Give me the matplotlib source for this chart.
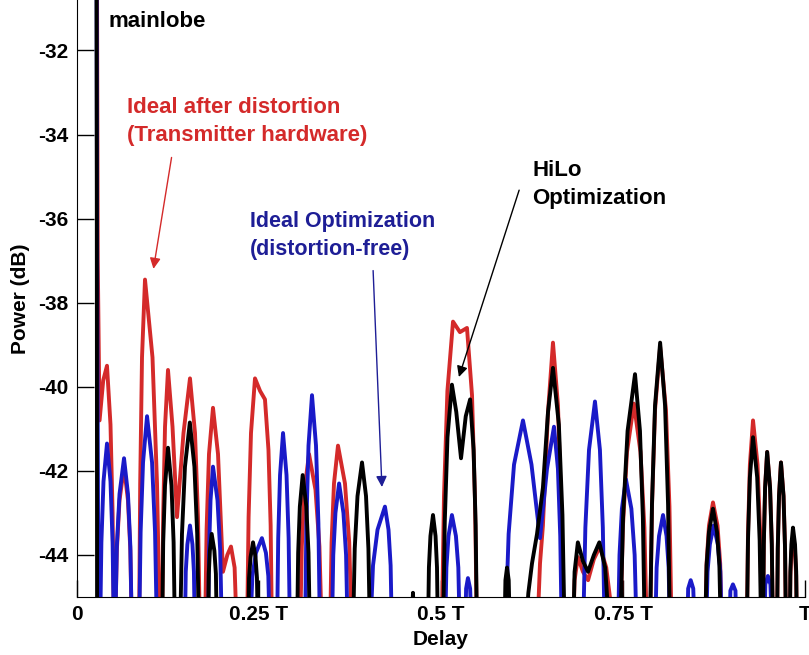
import matplotlib
matplotlib.use('Agg')
import matplotlib.pyplot as plt

plt.rcParams['font.family'] = ['Liberation Sans', 'DejaVu Sans']
plt.rcParams['axes.unicode_minus'] = False

# delay in units of T, power in dB
red_x = [0.026, 0.0285, 0.031, 0.036, 0.0412, 0.046, 0.0489, 0.0508,
         0.0522, 0.0547, 0.0584, 0.0646, 0.070, 0.0733, 0.0755,
         0.0852, 0.0868, 0.0893, 0.0934, 0.1037, 0.1099, 0.114,
         0.1168, 0.1184, 0.1209, 0.125, 0.1312, 0.1374,
         0.1463, 0.1552, 0.1621, 0.1662, 0.169,
         0.1758, 0.178, 0.1813, 0.1868, 0.1937, 0.2005,
         0.2065, 0.2115, 0.2165, 0.2198,
         0.2335, 0.2357, 0.239, 0.2445, 0.2515, 0.2582, 0.263, 0.266, 0.2679,
         0.3063, 0.3088, 0.3125, 0.3187, 0.3276, 0.333, 0.3365,
         0.3475, 0.3497, 0.353, 0.3585, 0.3681, 0.3739, 0.3777,
         0.501, 0.5041, 0.5088, 0.5165, 0.526, 0.5357, 0.5426, 0.5467, 0.5495,
         0.6319, 0.636, 0.640, 0.647, 0.6538, 0.6607, 0.6648, 0.6676,
         0.6813, 0.6835, 0.688, 0.695, 0.702, 0.710, 0.7184, 0.727, 0.732, 0.735,
         0.746, 0.7498, 0.7555, 0.765, 0.774, 0.7794, 0.783,
         0.787, 0.7898, 0.794, 0.801, 0.809, 0.8138, 0.817,
         0.8626, 0.8648, 0.8681, 0.8736, 0.8798, 0.8835, 0.886,
         0.920, 0.9217, 0.9243, 0.9286, 0.9348, 0.9385, 0.941,
         0.9423, 0.9434, 0.9452, 0.948, 0.952, 0.9544, 0.956,
         0.9615, 0.9626, 0.9643, 0.967, 0.9705, 0.9726, 0.974,
         0.979, 0.9799, 0.9813, 0.9835, 0.9863, 0.9879, 0.989]
red_y = [-20, -37, -40.8, -39.85, -39.5, -40.9, -43.0, -46,
         -46, -43.9, -42.7, -41.9, -42.7, -43.9, -46,
         -46, -42.3, -39.3, -37.45, -39.3, -42.3, -46,
         -46, -43.05, -40.95, -39.6, -40.95, -43.1,
         -41.1, -39.8, -41.1, -43.1, -46,
         -46, -43.4, -41.6, -40.5, -41.6, -44.4,
         -44.0, -43.8, -44.3, -46,
         -46, -43.1, -41.1, -39.8, -40.1, -40.3, -41.5, -43.3, -46,
         -46, -43.8, -42.45, -41.6, -42.45, -43.8, -46,
         -46, -43.7, -42.3, -41.4, -42.3, -43.7, -46,
         -46, -42.6, -40.1, -38.45, -38.7, -38.6, -40.2, -42.7, -46,
         -46, -44.2, -43.3, -40.6, -38.95, -40.45, -42.8, -46,
         -46, -44.6, -44.05, -44.4, -44.6, -44.1, -43.8, -44.3, -45, -46,
         -46, -43.35, -41.55, -40.4, -41.55, -43.35, -46,
         -46, -42.85, -40.55, -39.05, -40.55, -42.85, -46,
         -46, -44.2, -43.3, -42.75, -43.3, -44.2, -46,
         -46, -43.5, -41.85, -40.8, -41.85, -43.5, -46,
         -46, -43.75, -42.4, -41.55, -42.4, -43.75, -46,
         -46, -43.85, -42.6, -41.8, -42.6, -43.85, -46,
         -46, -44.5, -43.95, -43.6, -43.95, -44.5, -46]

blue_x = [0.026, 0.0275, 0.0295,
          0.0316, 0.0335, 0.0364, 0.0412, 0.046, 0.0489, 0.0508,
          0.0522, 0.0547, 0.0584, 0.0646, 0.070, 0.0733, 0.0755,
          0.0852, 0.0874, 0.0907, 0.0962, 0.1031, 0.1072, 0.110,
          0.148, 0.1494, 0.1516, 0.1552, 0.1586, 0.1606, 0.162,
          0.180, 0.1814, 0.1834, 0.1868, 0.193, 0.1967, 0.1992,
          0.2376, 0.2409, 0.2458, 0.254, 0.2595, 0.2628, 0.265,
          0.2747, 0.2764, 0.2789, 0.283, 0.2878, 0.2907, 0.2926,
          0.3132, 0.3151, 0.318, 0.3228, 0.3283, 0.3316, 0.3338,
          0.350, 0.352, 0.355, 0.360, 0.366, 0.3696, 0.372,
          0.4025, 0.4066, 0.4128, 0.423, 0.4279, 0.4308, 0.4327,
          0.5055, 0.5074, 0.5103, 0.515, 0.5205, 0.5238, 0.526,
          0.533, 0.5345, 0.537, 0.540, 0.5426,
          0.588, 0.5929, 0.6003, 0.6126, 0.6243, 0.632, 0.636,
          0.6456, 0.6552, 0.6606, 0.6638, 0.666,
          0.695, 0.6983, 0.7033, 0.7115, 0.7183, 0.7223, 0.725,
          0.743, 0.7452, 0.7485, 0.754, 0.7615, 0.766, 0.769,
          0.794, 0.7962, 0.7995, 0.805, 0.8098, 0.8127, 0.8146,
          0.838, 0.8395, 0.843, 0.8465, 0.849,
          0.864, 0.8661, 0.8693, 0.8745, 0.8803, 0.8837, 0.886,
          0.896, 0.8975, 0.901, 0.9045, 0.906,
          0.944, 0.9455, 0.949, 0.9525, 0.955]
blue_y = [-20, -36, -46,
          -46, -43.7, -42.25, -41.35, -42.25, -43.7, -46,
          -46, -43.8, -42.55, -41.7, -42.55, -43.8, -46,
          -46, -43.45, -41.8, -40.7, -41.8, -43.45, -46,
          -46, -44.4, -43.75, -43.3, -43.75, -44.4, -46,
          -46, -43.9, -42.7, -41.9, -42.7, -43.9, -46,
          -46, -44.5, -43.95, -43.6, -43.95, -44.5, -46,
          -46, -43.6, -42.1, -41.1, -42.1, -43.6, -46,
          -46, -43.25, -41.4, -40.2, -41.4, -43.25, -46,
          -46, -44.0, -43.0, -42.3, -43.0, -44.0, -46,
          -46, -44.25, -43.4, -42.85, -43.4, -44.25, -46,
          -46, -44.3, -43.55, -43.05, -43.55, -44.3, -46,
          -46, -44.8, -44.55, -44.8, -46,
          -46, -43.5, -41.85, -40.8, -41.85, -43.0, -43.6,
          -41.95, -40.95, -41.95, -43.55, -46,
          -46, -43.35, -41.5, -40.35, -41.5, -43.35, -46,
          -46, -44.0, -42.9, -42.2, -42.9, -44.0, -46,
          -46, -44.3, -43.55, -43.05, -43.55, -44.3, -46,
          -46, -44.8, -44.6, -44.8, -46,
          -46, -44.4, -43.75, -43.3, -43.75, -44.4, -46,
          -46, -44.85, -44.7, -44.85, -46,
          -46, -44.7, -44.5, -44.7, -46]

black_x = [0.026, 0.0272, 0.0276,
           0.1168, 0.1184, 0.1209, 0.125, 0.1298, 0.1327, 0.1346,
           0.1415, 0.1442, 0.1483, 0.155, 0.1613, 0.1651, 0.1676,
           0.180, 0.181, 0.1825, 0.185, 0.1887, 0.1908, 0.1923,
           0.2349, 0.2363, 0.2384, 0.2418, 0.2452, 0.2472, 0.2486,
           0.3022, 0.3038, 0.3061, 0.310, 0.315, 0.318, 0.320,
           0.379, 0.3815, 0.3853, 0.3915, 0.397, 0.4003, 0.4025,
           0.459, 0.4615, 0.464,
           0.482, 0.4834, 0.4855, 0.489, 0.4925, 0.4945, 0.4959,
           0.5027, 0.5052, 0.5089, 0.515, 0.521, 0.5275, 0.534, 0.540,
           0.5448, 0.5476, 0.5495,
           0.587, 0.5885, 0.5907, 0.593, 0.5948,
           0.6154, 0.620, 0.625, 0.6319, 0.640, 0.647, 0.6538, 0.6619,
           0.6668, 0.670,
           0.6813, 0.6835, 0.688, 0.695, 0.702, 0.710, 0.7175, 0.7255, 0.732,
           0.746, 0.7501, 0.7563, 0.7665, 0.7733, 0.7773, 0.780,
           0.787, 0.7898, 0.794, 0.801, 0.8078, 0.8119, 0.8146,
           0.8626, 0.8648, 0.8681, 0.8736, 0.8791, 0.8824, 0.8846,
           0.920, 0.9217, 0.9243, 0.9286, 0.9343, 0.9377, 0.940,
           0.9423, 0.9434, 0.9452, 0.948, 0.952, 0.9544, 0.956,
           0.9615, 0.9626, 0.9643, 0.967, 0.9705, 0.9726, 0.974,
           0.979, 0.9799, 0.9813, 0.9835, 0.9863, 0.9879, 0.989]
black_y = [-20, -35.4, -46,
           -46, -43.7, -42.35, -41.45, -42.35, -43.7, -46,
           -46, -43.5, -41.9, -40.85, -41.9, -43.5, -46,
           -46, -44.45, -43.9, -43.5, -43.9, -44.45, -46,
           -46, -44.55, -44.05, -43.7, -44.05, -44.55, -46,
           -46, -43.95, -42.85, -42.1, -42.85, -43.95, -46,
           -46, -43.85, -42.6, -41.8, -42.6, -43.85, -46,
           -46, -44.9, -46,
           -46, -44.3, -43.55, -43.05, -43.55, -44.3, -46,
           -46, -43.2, -41.2, -39.95, -40.6, -41.7, -40.7, -40.3,
           -41.5, -43.3, -46,
           -46, -44.6, -44.3, -44.6, -46,
           -46, -44.9, -44.2, -43.5, -42.4, -40.6, -39.55, -40.9,
           -43.05, -46,
           -46, -44.4, -43.7, -44.15, -44.4, -44.0, -43.7, -44.3, -46,
           -46, -43.1, -41.05, -39.7, -41.05, -43.1, -46,
           -46, -42.8, -40.45, -38.95, -40.45, -42.8, -46,
           -46, -44.25, -43.45, -42.9, -43.45, -44.25, -46,
           -46, -43.65, -42.15, -41.2, -42.15, -43.65, -46,
           -46, -43.75, -42.4, -41.55, -42.4, -43.75, -46,
           -46, -43.85, -42.6, -41.8, -42.6, -43.85, -46,
           -46, -44.4, -43.75, -43.35, -43.75, -44.4, -46]

xtick_pos = [0, 0.25, 0.5, 0.75, 1.0]
xtick_lab = ['0', '0.25 T', '0.5 T', '0.75 T', 'T']
ytick_pos = [-44, -42, -40, -38, -36, -34, -32]

RED = '#d42a2a'
BLUE = '#1a1ac8'
NAVY = '#1e1e96'

fig = plt.figure(figsize=(8.09, 6.55), dpi=100)
ax = fig.add_axes([77 / 809, 58 / 655, 728 / 809, 597 / 655])

ax.plot(red_x, red_y, color=RED, lw=2.8, zorder=2)
ax.plot(blue_x, blue_y, color=BLUE, lw=2.8, zorder=3)
ax.plot(black_x, black_y, color='black', lw=2.8, zorder=4)

ax.set_xlim(0, 1)
ax.set_ylim(-45, -30.8)
ax.set_xticks(xtick_pos)
ax.set_xticklabels(xtick_lab)
ax.set_yticks(ytick_pos)
ax.tick_params(direction='in', length=12, width=1, labelsize=15, pad=6)
for lab in ax.get_xticklabels() + ax.get_yticklabels():
    lab.set_fontweight('bold')
ax.spines['top'].set_visible(False)
ax.spines['right'].set_visible(False)
ax.set_xlabel('Delay', fontsize=15, fontweight='bold', labelpad=4)
ax.set_ylabel('Power (dB)', fontsize=15, fontweight='bold', labelpad=6)

ax.text(0.0426, -31.31, 'mainlobe', fontsize=16, fontweight='bold',
        va='center', ha='left')

ax.text(0.0687, -33.69, 'Ideal after distortion\n(Transmitter hardware)',
        color=RED, fontsize=16, fontweight='bold', va='center', ha='left',
        linespacing=1.45)
ax.annotate('', xy=(0.1044, -37.26), xytext=(0.1305, -34.48),
            arrowprops=dict(arrowstyle='-|>', color=RED, lw=1,
                            mutation_scale=16))

ax.text(0.2376, -36.40, 'Ideal Optimization\n(distortion-free)',
        color=NAVY, fontsize=15.5, fontweight='bold', va='center', ha='left',
        linespacing=1.45)
ax.annotate('', xy=(0.419, -42.45), xytext=(0.4066, -37.17),
            arrowprops=dict(arrowstyle='-|>', color=NAVY, lw=1,
                            mutation_scale=16))

ax.text(0.625, -35.19, 'HiLo\nOptimization', fontsize=16,
        fontweight='bold', va='center', ha='left', linespacing=1.4)
ax.annotate('', xy=(0.5234, -39.83), xytext=(0.6085, -35.26),
            arrowprops=dict(arrowstyle='-|>', color='black', lw=1,
                            mutation_scale=16))

fig.savefig('out.png', dpi=100)
